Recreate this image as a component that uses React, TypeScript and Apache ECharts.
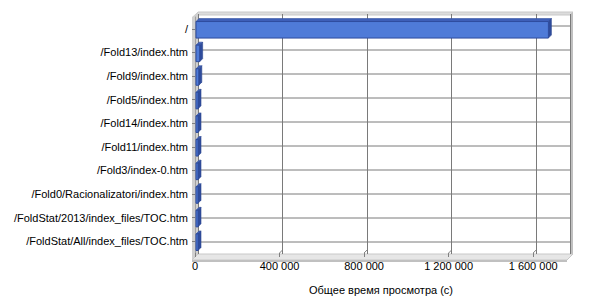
import React, { useEffect, useRef } from "react";
import * as echarts from "echarts";

const categories = [
  "/",
  "/Fold13/index.htm",
  "/Fold9/index.htm",
  "/Fold5/index.htm",
  "/Fold14/index.htm",
  "/Fold11/index.htm",
  "/Fold3/index-0.htm",
  "/Fold0/Racionalizatori/index.htm",
  "/FoldStat/2013/index_files/TOC.htm",
  "/FoldStat/All/index_files/TOC.htm",
];
const values = [1672000, 22000, 18000, 14000, 13000, 12000, 12000, 11000, 11000, 10000];
const xTicks = [0, 400000, 800000, 1200000, 1600000];
const xMax = 1760000;
const xName = "Общее время просмотра (с)";

const FONT = "Liberation Sans";
const D = 3; // 3D depth offset

const fmt = (v: number) => String(v).replace(/\B(?=(\d{3})+(?!\d))/g, " ");

export default function App() {
  const ref = useRef<HTMLDivElement>(null);
  useEffect(() => {
    if (!ref.current) return;
    const chart = echarts.init(ref.current, null, { renderer: "svg" });
    const FL = 195, FT = 17, W = 372, H = 240;
    const BL = FL + D, BT = FT - D;
    const wallGrey = "#C0C0C0";
    chart.setOption({
      animation: false,
      backgroundColor: "#ffffff",
      textStyle: { fontFamily: FONT },
      grid: [
        { left: FL, top: FT, width: W, height: H, containLabel: false },
        { left: BL, top: BT, width: W, height: H, containLabel: false },
      ],
      graphic: [
        { type: "polygon", z: 0, shape: { points: [[FL, BT + 1], [BL, BT - 2], [BL + W + D, BT - 2], [BL + W, BT + 1]] }, style: { fill: "#DCDCDC", stroke: "#C8C8C8", lineWidth: 1 } },
        { type: "polygon", z: 0, shape: { points: [[FL - 3, FT], [BL, BT - 2], [BL, BT + H], [FL - 3, FT + H + 3]] }, style: { fill: "#D0D0D0" } },
        { type: "polygon", z: 0, shape: { points: [[BL + W, BT + 1], [BL + W + D, BT - 2], [BL + W + D, BT + H], [BL + W, BT + H + 3]] }, style: { fill: wallGrey } },
        { type: "polygon", z: 0, shape: { points: [[FL - 3, FT + H + 3], [BL, BT + H], [BL + W + D, BT + H], [FL + W, FT + H + 3]] }, style: { fill: "#E6E6E6", stroke: "#C8C8C8", lineWidth: 1 } },
        { type: "rect", z: 0, shape: { x: FL - 3, y: FT + H + 3, width: W + 3, height: 2 }, style: { fill: wallGrey } },
      ],
      xAxis: [
        {
          gridIndex: 0,
          type: "value",
          min: 0,
          max: xMax,
          interval: 400000,
          axisLine: { show: false },
          axisTick: { show: true, length: 4, inside: false, lineStyle: { color: "#808080" } },
          splitLine: { show: false },
          axisLabel: { formatter: (v: number) => fmt(v), color: "#000", fontFamily: FONT, fontSize: 11, margin: 7, showMaxLabel: false },
          name: xName,
          nameLocation: "middle",
          nameGap: 31,
          nameTextStyle: { color: "#000", fontFamily: FONT, fontSize: 11 },
        },
        {
          gridIndex: 1,
          type: "value",
          min: 0,
          max: xMax,
          interval: 400000,
          z: 3,
          axisLine: { show: false },
          axisTick: { show: false },
          axisLabel: { show: false },
          splitLine: { show: true, lineStyle: { color: "#7A7A7A", width: 1 } },
        },
      ],
      yAxis: [
        {
          gridIndex: 0,
          type: "category",
          data: categories,
          inverse: true,
          offset: 3,
          axisLine: { show: true, lineStyle: { color: "#A0A0A0" } },
          axisTick: { show: true, alignWithLabel: true, length: 3, lineStyle: { color: "#808080" } },
          axisLabel: { color: "#000", fontFamily: FONT, fontSize: 11, margin: 4 },
          splitLine: { show: false },
        },
        {
          gridIndex: 1,
          type: "category",
          data: categories,
          inverse: true,
          show: false,
        },
      ],
      series: [
        {
          type: "custom",
          xAxisIndex: 1,
          yAxisIndex: 1,
          z: 3,
          silent: true,
          data: categories.map((_, i) => [0, i]),
          renderItem: (params: any, api: any) => {
            const cs = params.coordSys;
            const y = api.coord([0, api.value(1)])[1];
            return {
              type: "line",
              shape: { x1: cs.x, y1: y, x2: cs.x + cs.width, y2: y },
              style: { stroke: "#7A7A7A", lineWidth: 1 },
            };
          },
        },
        {
          type: "custom",
          xAxisIndex: 0,
          yAxisIndex: 0,
          z: 3,
          silent: true,
          data: xTicks.slice(1).map((t) => [t, 0]),
          renderItem: (params: any, api: any) => {
            const cs = params.coordSys;
            const x = api.coord([api.value(0), 0])[0];
            const yb = cs.y + cs.height;
            return {
              type: "line",
              shape: { x1: x + D, y1: yb - D, x2: x, y2: yb },
              style: { stroke: "#808080", lineWidth: 1 },
            };
          },
        },
        {
          type: "custom",
          xAxisIndex: 0,
          yAxisIndex: 0,
          z: 5,
          data: values.map((v, i) => [v, i]),
          encode: { x: 0, y: 1 },
          renderItem: (params: any, api: any) => {
            const idx = api.value(1);
            const p0 = api.coord([0, idx]);
            const p1 = api.coord([api.value(0), idx]);
            const band = api.size([0, 1])[1];
            const h = band * 0.35;
            const x0 = p0[0] + 1;
            const x1 = Math.max(p1[0], x0 + 2);
            const yT = p0[1] - h + 1;
            const yB = p0[1] + h + 1;
            return {
              type: "group",
              children: [
                {
                  type: "polygon",
                  shape: { points: [[x0, yT], [x0 + D, yT - D], [x1 + D, yT - D], [x1, yT]] },
                  style: { fill: "#3E5FB8", stroke: "#34529F", lineWidth: 0.6 },
                },
                {
                  type: "polygon",
                  shape: { points: [[x1, yT], [x1 + D, yT - D], [x1 + D, yB - D], [x1, yB]] },
                  style: { fill: "#2F4C9C", stroke: "#2B4690", lineWidth: 0.6 },
                },
                {
                  type: "rect",
                  shape: { x: x0, y: yT, width: x1 - x0, height: yB - yT },
                  style: { fill: "#4F7BD8", stroke: "#2E4C9E", lineWidth: 1 },
                },
              ],
            };
          },
        },
      ],
    });
    return () => chart.dispose();
  }, []);
  return <div ref={ref} style={{ position: "fixed", left: 0, top: 0, width: 600, height: 300 }} />;
}
